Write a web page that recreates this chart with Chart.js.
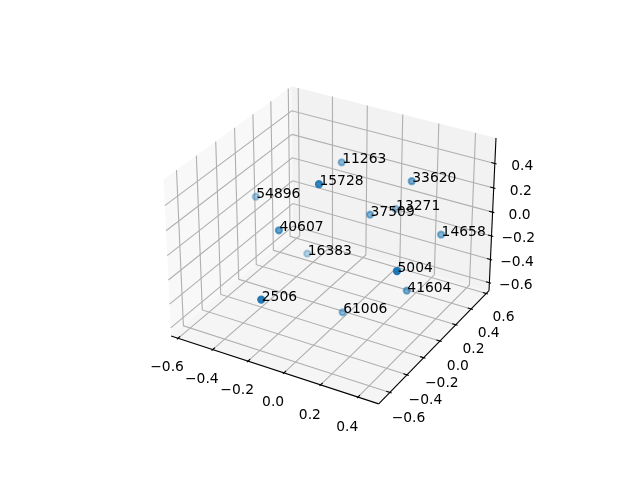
<!DOCTYPE html>
<html>
<head>
<meta charset="utf-8">
<style>html,body{margin:0;padding:0;background:#fff}canvas{display:block}</style>
<script src="https://cdn.jsdelivr.net/npm/chart.js@4"></script>
</head>
<body>
<canvas id="c" width="640" height="480"></canvas>
<script>
// ===========================
// Data
// ===========================
const pointLabels = ['11263','15728','54896','40607','33620','13271','37509','14658','5004','41604','16383','2506','61006'];
const xValues = [-0.174,-0.096,-0.535,-0.281,0.180,0.095,0.028,0.352,0.360,0.292,-0.263,-0.177,0.014];
const yValues = [0.280,-0.139,0.016,-0.219,0.359,0.357,0.193,0.349,-0.206,0.072,0.059,-0.617,-0.095];
const zValues = [0.346,0.442,0.072,0.042,0.286,0.024,0.048,-0.077,-0.020,-0.394,-0.319,-0.224,-0.593];
const xTicks = [-0.6,-0.4,-0.2,0,0.2,0.4];
const yTicks = [-0.6,-0.4,-0.2,0,0.2,0.4,0.6];
const zTicks = [-0.6,-0.4,-0.2,0,0.2,0.4];
const XLIM = [-0.617,0.487], YLIM = [-0.70,0.61], ZLIM = [-0.644,0.579];

// ===========================
// 3D projection (elev 30, azim -60, distance 10)
// ===========================
const n = 1.8294640721620434 / Math.sqrt(41);
const BOX = [4 * n, 4 * n, 3 * n];
const U = [0.8660254, 0.5, 0], V = [-0.25, 0.4330127, 0.8660254], W = [0.4330127, -0.75, 0.5];
const LIMS = [XLIM, YLIM, ZLIM];
function dot(a, b) { return a[0] * b[0] + a[1] * b[1] + a[2] * b[2]; }
function toBox(p) { return p.map((v, i) => (v - LIMS[i][0]) / (LIMS[i][1] - LIMS[i][0]) * BOX[i] - BOX[i] / 2); }
function project(p) {
  const q = toBox(p), d = dot(q, W);
  return { x: dot(q, U) / (10 - d), y: dot(q, V) / (10 - d), d };
}
function pane(a) { const r = a[1] - a[0]; return [a[0] - r / 48, a[1] + r / 48]; }
const px = pane(XLIM), py = pane(YLIM), pz = pane(ZLIM);
const dx = (px[1] - px[0]) / 12, dy = (py[1] - py[0]) / 12, dz = (pz[1] - pz[0]) / 12;

// ===========================
// Datasets (listed back to front, reversed at the end: Chart.js paints index 0 last)
// ===========================
function poly(pts, o) {
  return Object.assign({ data: pts.map(project), showLine: true, pointRadius: 0, borderWidth: 0, tension: 0, clip: false }, o);
}
const ds = [];
ds.push(poly([[px[0], py[0], pz[0]], [px[0], py[1], pz[0]], [px[0], py[1], pz[1]], [px[0], py[0], pz[1]]], { fill: 'shape', backgroundColor: 'rgba(242,242,242,0.5)' }));
ds.push(poly([[px[0], py[1], pz[0]], [px[1], py[1], pz[0]], [px[1], py[1], pz[1]], [px[0], py[1], pz[1]]], { fill: 'shape', backgroundColor: 'rgba(230,230,230,0.5)' }));
ds.push(poly([[px[0], py[0], pz[0]], [px[1], py[0], pz[0]], [px[1], py[1], pz[0]], [px[0], py[1], pz[0]]], { fill: 'shape', backgroundColor: 'rgba(236,236,236,0.5)' }));

const GRID = { borderColor: 'rgb(176,176,176)', borderWidth: 1.11 };
xTicks.forEach(t => ds.push(poly([[t, py[0], pz[0]], [t, py[1], pz[0]], [t, py[1], pz[1]]], GRID)));
yTicks.forEach(t => ds.push(poly([[px[1], t, pz[0]], [px[0], t, pz[0]], [px[0], t, pz[1]]], GRID)));
zTicks.forEach(t => ds.push(poly([[px[0], py[0], t], [px[0], py[1], t], [px[1], py[1], t]], GRID)));

const BLACK = { borderColor: '#000', borderWidth: 1.11 };
ds.push(poly([[px[0], py[0], pz[0]], [px[1], py[0], pz[0]]], BLACK));
ds.push(poly([[px[1], py[0], pz[0]], [px[1], py[1], pz[0]]], BLACK));
ds.push(poly([[px[1], py[1], pz[0]], [px[1], py[1], pz[1]]], BLACK));
xTicks.forEach(t => ds.push(poly([[t, py[0] - 0.1 * dy, pz[0]], [t, py[0] + 0.2 * dy, pz[0]]], BLACK)));
yTicks.forEach(t => ds.push(poly([[px[1] + 0.1 * dx, t, pz[0]], [px[1] - 0.2 * dx, t, pz[0]]], BLACK)));
zTicks.forEach(t => ds.push(poly([[px[1] + 0.1 * dx, py[1], t], [px[1] - 0.2 * dx, py[1], t]], BLACK)));

// Scatter points, far ones first, fading with depth
const points = xValues.map((x, i) => [x, yValues[i], zValues[i]]);
const depths = points.map(p => project(p).d);
const dMin = Math.min(...depths), dMax = Math.max(...depths);
const order = points.map((p, i) => i).sort((a, b) => depths[a] - depths[b]);
const shade = i => `rgba(31,119,180,${1 - (dMax - depths[i]) / (dMax - dMin) * 0.7})`;
ds.push({
  data: order.map(i => project(points[i])), showLine: false, clip: false, pointRadius: 3.1, pointBorderWidth: 2.08,
  pointBackgroundColor: order.map(shade), pointBorderColor: order.map(shade)
});
ds.reverse();

// ===========================
// Text
// ===========================
const LABEL_SHIFT = (3.5 + 8) * 48 / 532;
const LABEL_DROP = 6.5;
const tickText = v => v.toFixed(1).replace('-', '\u2212');
const textPlugin = {
  id: 'text3d',
  afterDatasetsDraw(c) {
    const g = c.ctx;
    const at = p => { const q = project(p); return [c.scales.x.getPixelForValue(q.x), c.scales.y.getPixelForValue(q.y)]; };
    const tick = (t, p) => { const q = at(p); g.fillText(tickText(t), q[0], q[1] + LABEL_DROP); };
    g.save();
    g.fillStyle = '#000';
    g.font = '13.89px "DejaVu Sans"';
    g.textBaseline = 'alphabetic';
    g.textAlign = 'left';
    points.forEach((p, i) => { const q = at(p); g.fillText(pointLabels[i], q[0] + 0.5, q[1] + 1); });
    g.textBaseline = 'middle';
    g.textAlign = 'center';
    xTicks.forEach(t => tick(t, [t, py[0] - LABEL_SHIFT * dy, pz[0] - LABEL_SHIFT * dz]));
    yTicks.forEach(t => tick(t, [px[1] + LABEL_SHIFT * dx, t, pz[0] - LABEL_SHIFT * dz]));
    zTicks.forEach(t => tick(t, [px[1] + LABEL_SHIFT * dx, py[1] + LABEL_SHIFT * dy, t]));
    g.restore();
  }
};

// ===========================
// Chart
// ===========================
new Chart(document.getElementById('c'), {
  type: 'scatter',
  data: { datasets: ds },
  plugins: [textPlugin],
  options: {
    responsive: false,
    animation: false,
    layout: { padding: { left: 143.2, right: 127.2, top: 57.6, bottom: 52.8 } },
    plugins: { legend: { display: false }, tooltip: { enabled: false } },
    scales: {
      x: { type: 'linear', display: false, min: -0.095, max: 0.09 },
      y: { type: 'linear', display: false, min: -0.095, max: 0.09 }
    }
  }
});
</script>
</body>
</html>
